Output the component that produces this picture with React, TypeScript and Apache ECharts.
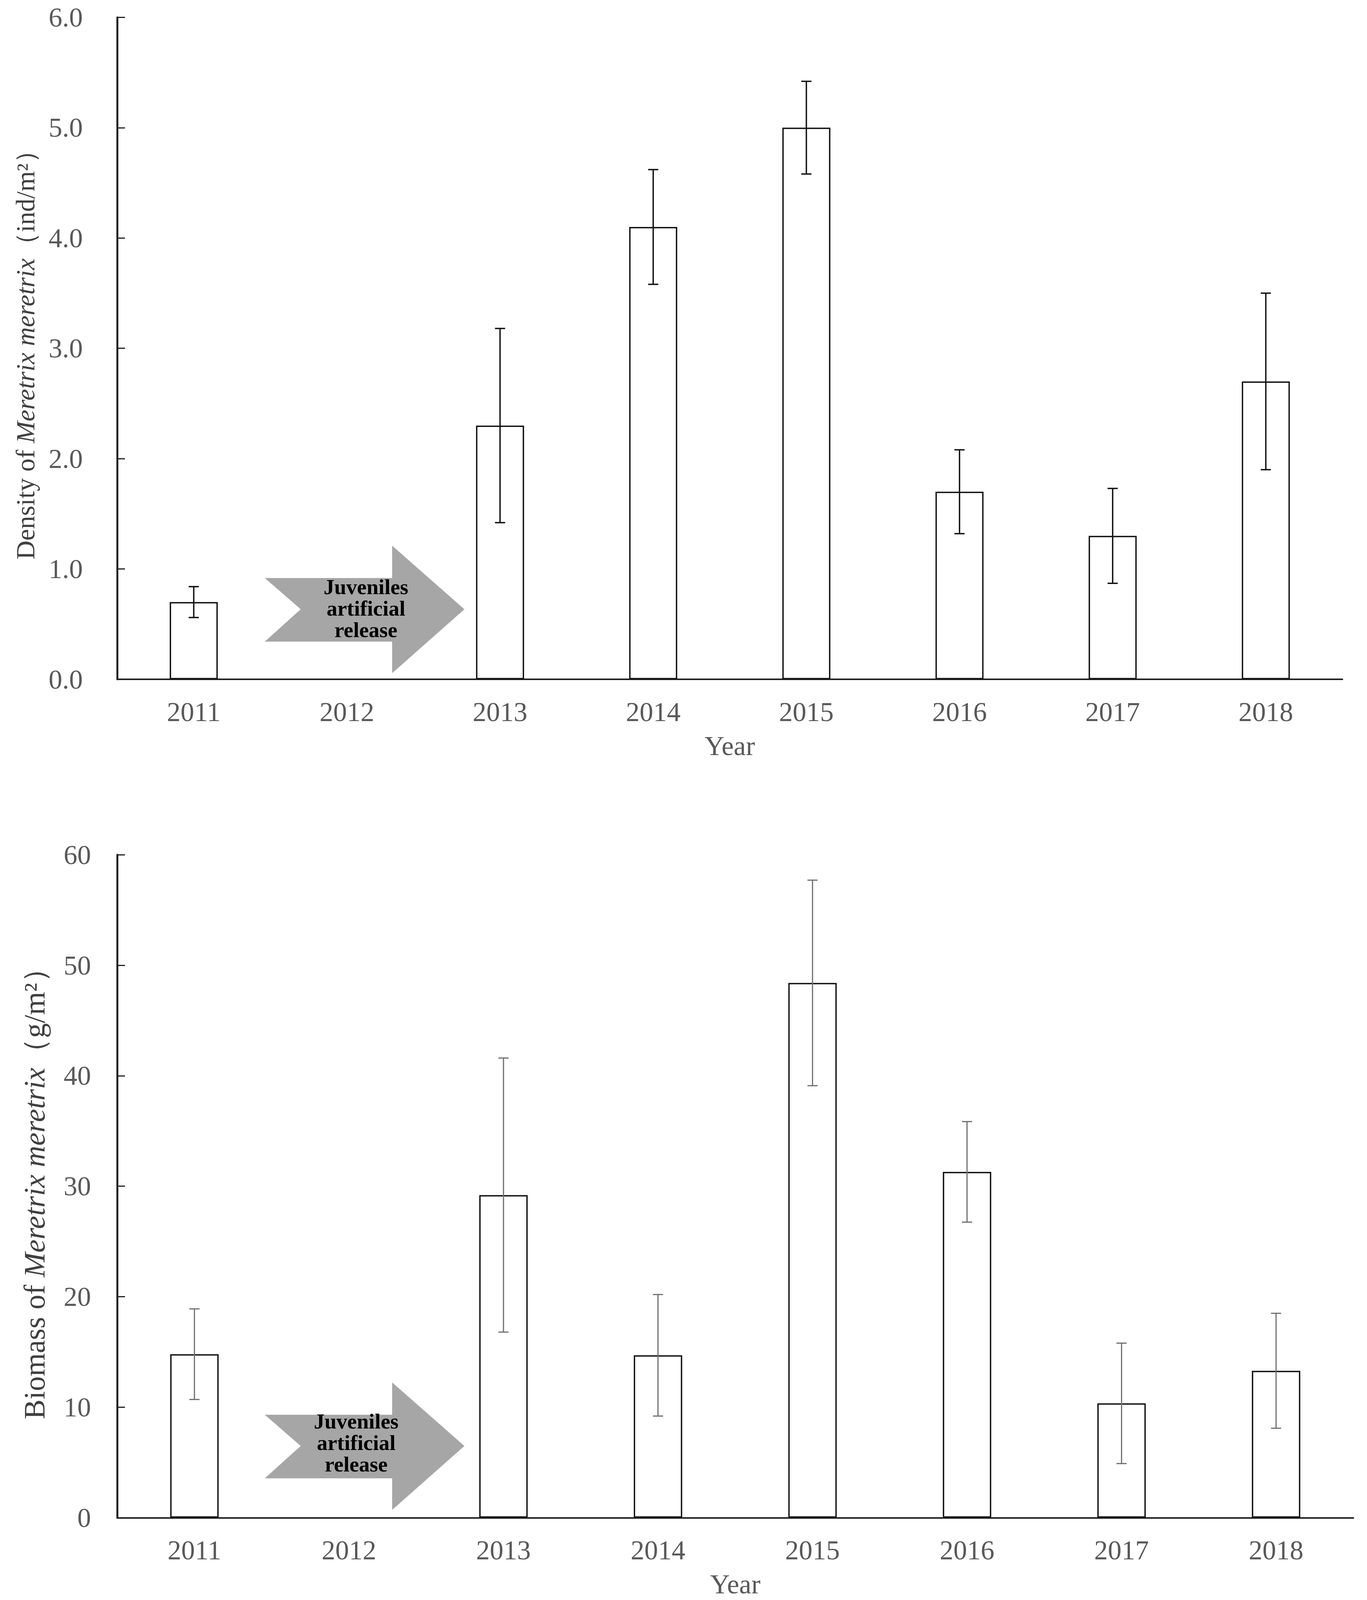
import React, { useEffect, useRef } from "react";
import * as echarts from "echarts";

const years = ["2011", "2012", "2013", "2014", "2015", "2016", "2017", "2018"];
const densityMean: (number | null)[] = [0.7, null, 2.3, 4.1, 5.0, 1.7, 1.3, 2.7];
const densitySd: (number | null)[] = [0.14, null, 0.88, 0.52, 0.42, 0.38, 0.43, 0.8];
const biomassMean: (number | null)[] = [14.8, null, 29.2, 14.7, 48.4, 31.3, 10.35, 13.3];
const biomassSd: (number | null)[] = [4.1, null, 12.4, 5.5, 9.3, 4.55, 5.45, 5.2];
const densityTicks = { min: 0, max: 6, interval: 1 };
const biomassTicks = { min: 0, max: 60, interval: 10 };
const arrowText = "Juveniles\nartificial\nrelease";

const FONT = '"Liberation Serif", "Times New Roman", serif';
const REF_W = 3500;
const REF_H = 4706;

function errData(mean: (number | null)[], sd: (number | null)[]) {
  const out: any[] = [];
  mean.forEach((m, i) => {
    const s = sd[i];
    if (m != null && s != null) out.push([i, m - s, m + s]);
  });
  return out;
}

function makeErrRender(color: string, width: number) {
  return (params: any, api: any) => {
    const lo = api.coord([api.value(0), api.value(1)]);
    const hi = api.coord([api.value(0), api.value(2)]);
    const cap = 13;
    const style = { stroke: color, lineWidth: width };
    return {
      type: "group",
      children: [
        { type: "line", shape: { x1: lo[0], y1: lo[1], x2: hi[0], y2: hi[1] }, style },
        { type: "line", shape: { x1: lo[0] - cap, y1: lo[1], x2: lo[0] + cap, y2: lo[1] }, style },
        { type: "line", shape: { x1: hi[0] - cap, y1: hi[1], x2: hi[0] + cap, y2: hi[1] }, style },
      ],
    };
  };
}

export default function App() {
  const ref = useRef<HTMLDivElement>(null);
  useEffect(() => {
    document.body.style.margin = "0";
    if (!ref.current) return;
    const H = Math.min(REF_H, window.innerHeight || REF_H);
    const sy = H / REF_H;
    const Y = (v: number) => v * sy;
    ref.current.style.height = H + "px";
    const chart = echarts.init(ref.current, null, { renderer: "svg" });

    const fs = Math.round(75 * (0.5 + sy / 2));
    const tickLabel = { fontFamily: FONT, fontSize: fs, color: "#595959" };
    const nameRich = (size: number) => ({
      n: { fontFamily: FONT, fontSize: size, color: "#404040" },
      i: { fontFamily: FONT, fontSize: size, color: "#404040", fontStyle: "italic" },
    });

    const arrow = (axisY: number, textCx: number, textCy: number) => {
      const b = axisY;
      return [
        {
          type: "polygon",
          shape: {
            points: [
              [678, Y(b - 298)],
              [1004, Y(b - 298)],
              [1004, Y(b - 393)],
              [1189, Y(b - 206)],
              [1004, Y(b - 18)],
              [1004, Y(b - 111)],
              [678, Y(b - 111)],
              [770, Y(b - 206)],
            ],
          },
          style: { fill: "#a6a6a6" },
          z: 10,
        },
        {
          type: "text",
          z: 11,
          style: {
            text: arrowText,
            x: textCx,
            y: Y(textCy),
            align: "center",
            verticalAlign: "middle",
            fontFamily: FONT,
            fontWeight: "bold",
            fontSize: Math.round(60 * (0.4 + 0.6 * sy)),
            lineHeight: Math.round(63 * sy),
            fill: "#000",
          },
        },
      ];
    };

    const xAxisBase = (gridIndex: number) => ({
      type: "category",
      gridIndex,
      data: years,
      boundaryGap: true,
      name: "Year",
      nameLocation: "middle",
      nameGap: Math.round(Y(155)),
      nameTextStyle: { fontFamily: FONT, fontSize: fs, color: "#595959" },
      axisLine: { lineStyle: { color: "#222", width: 4 } },
      axisTick: { inside: true, length: Math.round(Y(20)), lineStyle: { color: "#222", width: 3 } },
      axisLabel: { ...tickLabel, margin: Math.round(Y(55)) },
      splitLine: { show: false },
    });

    chart.setOption({
      animation: false,
      backgroundColor: "#fff",
      grid: [
        { left: 300, right: 63, top: Y(51), height: Y(1947) },
        { left: 300, right: 35, top: Y(2514), height: Y(1950) },
      ],
      xAxis: [xAxisBase(0), xAxisBase(1)],
      yAxis: [
        {
          type: "value",
          gridIndex: 0,
          ...densityTicks,
          name: "{n|Density of }{i|Meretrix meretrix}{n|（ind/m²）}",
          nameLocation: "middle",
          nameRotate: 90,
          nameGap: 202,
          nameTextStyle: { rich: nameRich(Math.round(77 * sy)) },
          axisLine: { show: true, lineStyle: { color: "#222", width: 5 } },
          axisTick: { show: true, inside: true, length: 20, lineStyle: { color: "#222", width: 3 } },
          axisLabel: { ...tickLabel, margin: 88, formatter: (v: number) => v.toFixed(1) },
          splitLine: { show: false },
        },
        {
          type: "value",
          gridIndex: 1,
          ...biomassTicks,
          name: "{n|Biomass of }{i|Meretrix meretrix}{n|（g/m²）}",
          nameLocation: "middle",
          nameRotate: 90,
          nameGap: 174,
          nameTextStyle: { rich: nameRich(Math.round(87 * sy)) },
          axisLine: { show: true, lineStyle: { color: "#222", width: 5 } },
          axisTick: { show: true, inside: true, length: 20, lineStyle: { color: "#222", width: 3 } },
          axisLabel: { ...tickLabel, margin: 67 },
          splitLine: { show: false },
        },
      ],
      series: [
        {
          type: "bar",
          xAxisIndex: 0,
          yAxisIndex: 0,
          data: densityMean.map((v) => (v == null ? "-" : v)),
          barWidth: 123,
          itemStyle: { color: "#fff", borderColor: "#111", borderWidth: 3.5 },
        },
        {
          type: "custom",
          xAxisIndex: 0,
          yAxisIndex: 0,
          data: errData(densityMean, densitySd),
          renderItem: makeErrRender("#111", 3.5),
          z: 5,
        },
        {
          type: "bar",
          xAxisIndex: 1,
          yAxisIndex: 1,
          data: biomassMean.map((v) => (v == null ? "-" : v)),
          barWidth: 124,
          itemStyle: { color: "#fff", borderColor: "#111", borderWidth: 3.5 },
        },
        {
          type: "custom",
          xAxisIndex: 1,
          yAxisIndex: 1,
          data: errData(biomassMean, biomassSd),
          renderItem: makeErrRender("#6e6e6e", 3),
          z: 5,
        },
      ],
      graphic: [...arrow(1998, 937, 1790), ...arrow(4459, 912, 4244)],
    });
    return () => chart.dispose();
  }, []);
  return <div ref={ref} style={{ width: REF_W, height: REF_H }} />;
}
